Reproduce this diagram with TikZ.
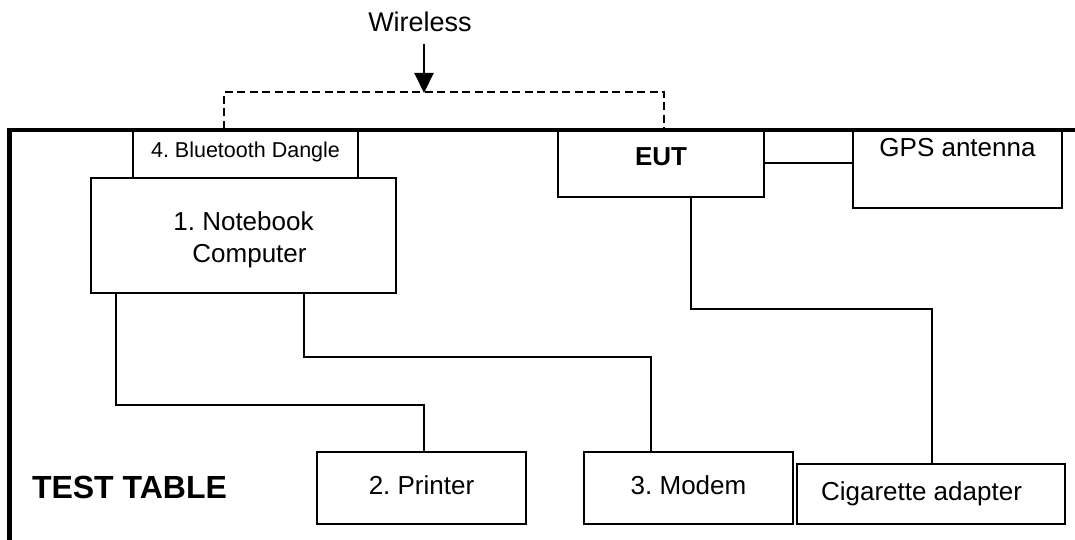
\documentclass[tikz,border=0pt]{standalone}
\usepackage{fontspec}
\setmainfont{Liberation Sans}
\usetikzlibrary{arrows.meta}
\frenchspacing
\begin{document}
\begin{tikzpicture}[x=1pt, y=1pt, line width=2pt]
    \tikzstyle{frame_box} = [draw=black, rectangle, inner sep=0pt, font=\fontsize{26}{32}\selectfont]
    \tikzstyle{box_style} = [frame_box, text height=19pt, text depth=6pt]
    \tikzstyle{wire_style} = [draw=black, line width=2pt]
    \tikzstyle{air_style} = [draw=black, line width=2pt, dash pattern=on 8pt off 4.5pt]
    \tikzstyle{arrow_style} = [draw=black, line width=2pt, -{Triangle[length=20pt, width=19pt]}]
    \tikzstyle{table_style} = [draw=black, line width=4.5pt]
    \useasboundingbox (0,0) rectangle (1075,-540);

    \node[box_style, minimum width=225pt, minimum height=48pt, font=\fontsize{21.5}{26}\selectfont, text height=15.5pt, text depth=7.5pt] (bt) at (245.5,-154) {4. Bluetooth Dangle};
    \node[frame_box, minimum width=305pt, minimum height=115pt, align=center] (nb) at (243.5,-235.5) {\rule{0pt}{28pt}1. Notebook\\\hspace{12pt}Computer};
    \node[box_style, minimum width=206pt, minimum height=67pt, font=\bfseries\fontsize{26}{32}\selectfont, text depth=14pt] (eut) at (661,-163.5) {EUT};
    \node[box_style, minimum width=209pt, minimum height=78pt, text depth=43pt] (gps) at (957.5,-169) {GPS antenna};
    \node[box_style, minimum width=209pt, minimum height=72pt] (pr) at (421.5,-488) {2. Printer};
    \node[box_style, minimum width=209pt, minimum height=72pt] (mo) at (688.5,-488) {3. Modem};
    \node[box_style, minimum width=268pt, minimum height=60pt] (cig) at (931,-494) {\mbox{Cigarette adapter\hspace{19pt}}};

    \node[anchor=base, inner sep=0pt, font=\fontsize{27}{32}\selectfont] (wireless) at (420,-32) {Wireless};
    \node[anchor=base west, inner sep=0pt, font=\bfseries\fontsize{32}{38}\selectfont] (table) at (31,-498) {TEST TABLE};
    \coordinate (air) at (424,-93);

    % wireless link between dongle and EUT
    \draw[air_style] ([xshift=-21.5pt]bt.north) -- ++(0,37) -| ([xshift=3pt]eut.north);
    \draw[arrow_style, shorten <=11pt] (wireless.south -| air) -- (air);

    % cables
    \draw[wire_style] ([xshift=26pt]nb.south west) -- ++(0,-111) -| ([xshift=2.5pt]pr.north);
    \draw[wire_style] ([xshift=60.5pt]nb.south) -- ++(0,-63) -| ([xshift=-37.5pt]mo.north);
    \draw[wire_style] ([xshift=30pt]eut.south) -- ++(0,-111) -| ([xshift=1pt]cig.north);
    \draw[wire_style] (eut.east) -- (eut.east -| gps.west);

    % edge of the table
    \draw[table_style] (1075,-130) -- (9.5,-130) -- (9.5,-540);
\end{tikzpicture}
\end{document}
